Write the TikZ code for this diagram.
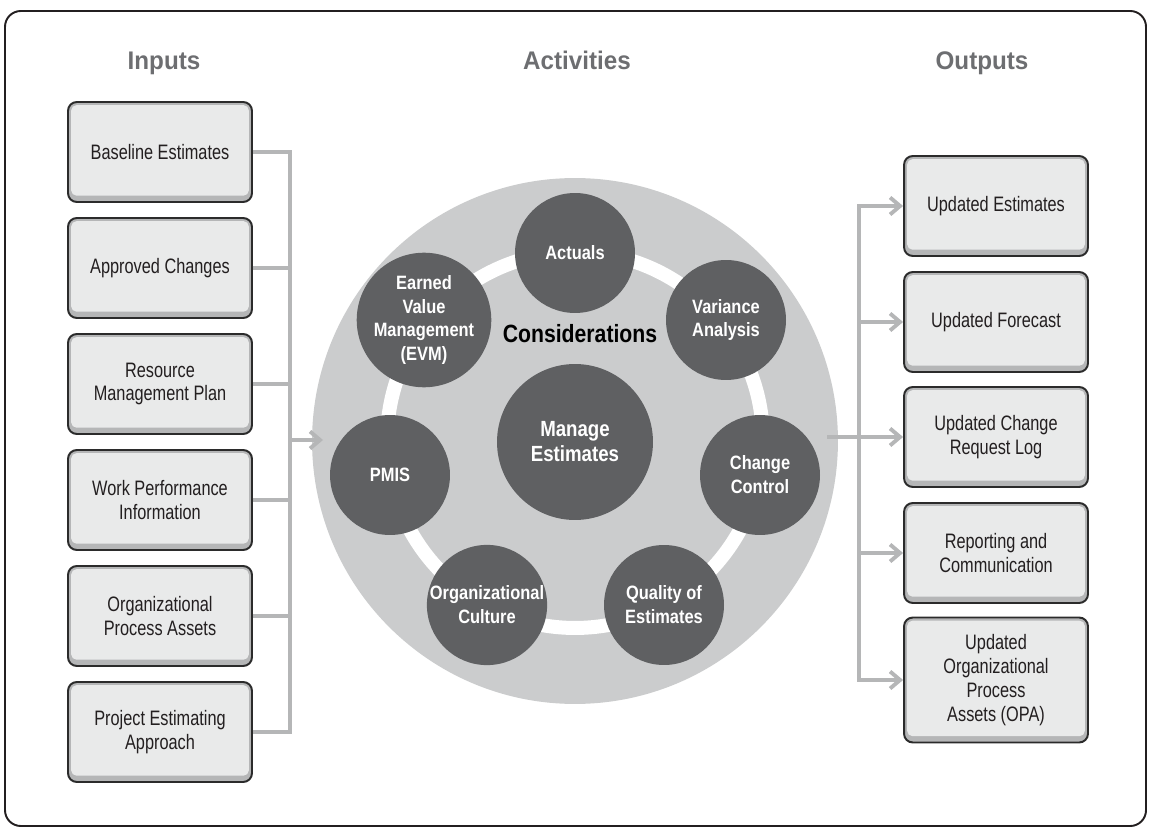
\documentclass[tikz,border=0pt]{standalone}
\usepackage{fontspec}
\setmainfont{Liberation Sans}
\newfontfamily\boxfont[FakeStretch=0.78]{Liberation Sans}
\newfontfamily\condfont[FakeStretch=0.85]{Liberation Sans}
\newfontfamily\headfont[FakeStretch=0.95]{Liberation Sans}
\usetikzlibrary{calc,arrows.meta}

\definecolor{framec}{HTML}{231F20}
\definecolor{headc}{HTML}{6D6E71}
\definecolor{boxline}{HTML}{2B2B2B}
\definecolor{boxface}{HTML}{E9EAEA}
\definecolor{boxedge}{HTML}{B5B6B7}
\definecolor{boxtext}{HTML}{231F20}
\definecolor{discc}{HTML}{CBCCCD}
\definecolor{circc}{HTML}{5F6062}
\definecolor{connc}{HTML}{B5B6B7}

\tikzset{
	head/.style={anchor=base, text=headc, font=\headfont\bfseries\fontsize{14.5}{16}\selectfont},
	iobox/.style={draw=boxline, line width=1.1pt, rounded corners=5pt, fill=boxedge,
		minimum width=3.68cm, minimum height=2cm, align=center, text=boxtext,
		font=\boxfont\fontsize{11.9}{13.6}\selectfont,
		path picture={\fill[boxface, rounded corners=3pt]
			([shift={(1.8pt,-1.8pt)}]path picture bounding box.north west) rectangle
			([shift={(-1.8pt,3.6pt)}]path picture bounding box.south east);}},
	consid/.style={circle, fill=circc, minimum size=2.4cm, inner sep=0pt, align=center,
		text=white, font=\condfont\bfseries\fontsize{11}{13.6}\selectfont},
	conn/.style={draw=connc, line width=2.2pt},
	>={Straight Barb[length=2mm,width=3.4mm]}
}

\begin{document}
\begin{tikzpicture}[x=0.02cm, y=-0.02cm]
	\useasboundingbox (0,0) rectangle (1151,830);
	%%%%% FRAME AND HEADINGS %%%%%
	\draw[framec, line width=1.1pt, rounded corners=9pt] (5,11) rectangle (1146,826);
	\node[head] (hin) at (164,70) {Inputs};
	\node[head] (hact) at (577,70) {Activities};
	\node[head] (hout) at (982,70) {Outputs};
	
	%%%%% CONSIDERATIONS DISC %%%%%
	\node[circle, fill=discc, minimum size=10.52cm, inner sep=0pt] (disc) at (575,441) {};
	\draw[white, line width=0.28cm] (575,440) circle[radius=3.76cm];
	
	\node[consid] (actuals) at (575,253) {Actuals};
	\node[consid] (variance) at (726,320) {Variance\\Analysis};
	\node[consid] (chctrl) at (760,475) {Change\\Control};
	\node[consid] (quality) at (664,605) {Quality of\\Estimates};
	\node[consid] (culture) at (487,605) {Organizational\\Culture};
	\node[consid] (pmis) at (390,475) {PMIS};
	\node[consid] (evm) at (424,320) {Earned\\Value\\Management\\(EVM)};
	
	\node[consid, minimum size=3.12cm, font=\condfont\bfseries\fontsize{12.5}{14.2}\selectfont] (hub) at (575,442) {Manage\\Estimates};
	\node[font=\condfont\bfseries\fontsize{14.2}{16}\selectfont, text=black] (consider) at (580,334) {Considerations};
	
	%%%%% INPUTS %%%%%
	\node[iobox] (in1) at (160,152) {Baseline Estimates};
	\node[iobox] (in2) at (160,268) {Approved Changes};
	\node[iobox] (in3) at (160,384) {Resource\\Management Plan};
	\node[iobox] (in4) at (160,500) {Work Performance\\Information};
	\node[iobox] (in5) at (160,616) {Organizational\\Process Assets};
	\node[iobox] (in6) at (160,732) {Project Estimating\\Approach};
	
	\coordinate (inbus) at (290,440);
	\coordinate (discin) at (323,440);
	\draw[conn] (in1.east) -| (inbus);
	\draw[conn] (in6.east) -| (inbus);
	\draw[conn] (in2.east) -- (in2.east -| inbus);
	\draw[conn] (in3.east) -- (in3.east -| inbus);
	\draw[conn] (in4.east) -- (in4.east -| inbus);
	\draw[conn] (in5.east) -- (in5.east -| inbus);
	\draw[conn,->] (inbus) -- (discin);
	
	%%%%% OUTPUTS %%%%%
	\node[iobox] (ob1) at (996,206) {Updated Estimates};
	\node[iobox] (ob2) at (996,322) {Updated Forecast};
	\node[iobox] (ob3) at (996,437) {Updated Change\\Request Log};
	\node[iobox] (ob4) at (996,553) {Reporting and\\Communication};
	\node[iobox, minimum height=2.5cm] (ob5) at (996,680) {Updated\\Organizational\\Process\\Assets (OPA)};
	
	\coordinate (outbus) at (859,437);
	\coordinate (discout) at (827,437);
	\draw[conn,->] (outbus) |- (ob1.west);
	\draw[conn,->] (outbus) |- (ob5.west);
	\draw[conn,->] (ob2.west -| outbus) -- (ob2.west);
	\draw[conn,->] (ob4.west -| outbus) -- (ob4.west);
	\draw[conn,->] (discout) -- (ob3.west);
\end{tikzpicture}
\end{document}
